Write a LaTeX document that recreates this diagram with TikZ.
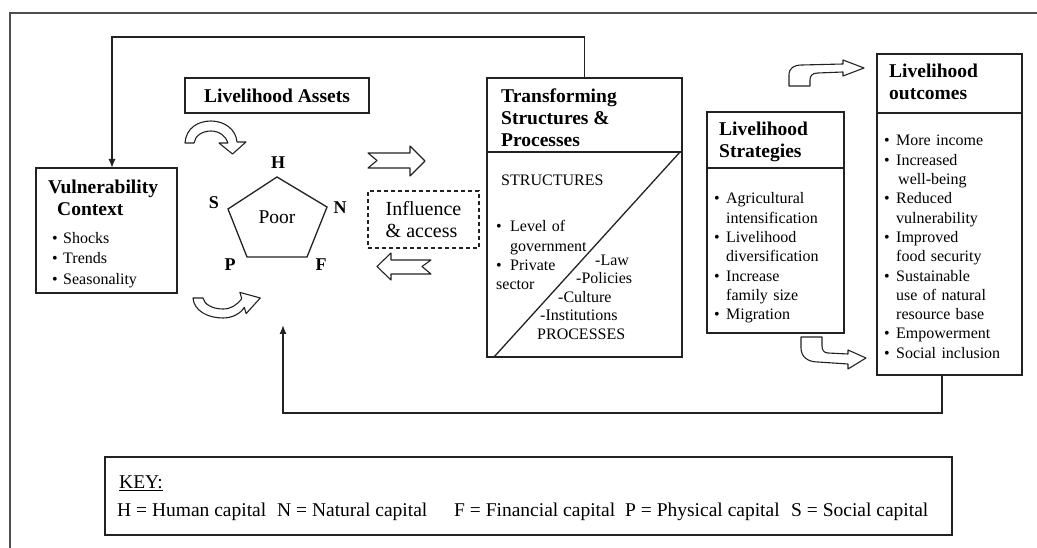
\documentclass[tikz,border=0pt]{standalone}
\usepackage{fontspec}
\setmainfont{Liberation Serif}
\usetikzlibrary{arrows.meta}
\definecolor{ink}{HTML}{222222}
\newlength\bulw
\newcommand{\headfont}{\fontsize{19.5}{22}\selectfont\bfseries}
\newcommand{\listfont}{\fontsize{16}{19.3}\selectfont}
\newcommand{\keyfont}{\fontsize{19.5}{22}\selectfont}
\newcommand{\bitem}{\par\noindent\hangindent=\bulw\hangafter=1\makebox[\bulw][l]{\strut\textbullet}}

\begin{document}
\begin{tikzpicture}[x=1pt, y=-1pt, every text node part/.style={align=left}]

\tikzstyle{panel} = [rectangle, draw=ink, line width=1.3pt, inner sep=0, outer sep=0, anchor=north west]
\tikzstyle{heading} = [inner sep=0, anchor=north west, font=\headfont]
\tikzstyle{listing} = [inner sep=0, anchor=north west, font=\listfont, text width=140pt]
\tikzstyle{plain} = [inner sep=0, anchor=base west, font=\listfont]
\tikzstyle{letter} = [inner sep=0, font=\fontsize{18}{20}\selectfont\bfseries]
\tikzstyle{wire} = [draw=ink, line width=1.3pt]
\tikzstyle{arrow} = [draw=ink, line width=1.3pt, -{Latex[length=9pt,width=7pt]}]
\tikzstyle{hollow} = [draw=ink, line width=1.1pt, line join=round]

\useasboundingbox (0,0) rectangle (1037,548);
\draw[wire, draw=ink!80] (10,548) -- (10,13) -- (1037,13);

% vulnerability context
\node[panel, minimum width=141pt, minimum height=125pt] (vuln) at (36,168) {};
\node[heading] (vulnhead) at (48,178) {\strut Vulnerability\\\hspace*{9pt}Context};
\node[listing, text width=120pt] (vulnlist) at (52,223) {\fontsize{16}{20}\selectfont\setlength\bulw{11pt}\bitem Shocks\bitem Trends\bitem Seasonality};

% livelihood assets
\node[panel, anchor=center, minimum width=184pt, minimum height=35pt, font=\headfont] (assets) at (277,95.5) {Livelihood Assets};

\coordinate (ph) at (277,177);
\coordinate (pn) at (327,207);
\coordinate (pf) at (307,257);
\coordinate (pp) at (247,257);
\coordinate (ps) at (228,209);
\draw[wire] (ph) -- (pn) -- (pf) -- (pp) -- (ps) -- cycle;
\node[font=\fontsize{19.5}{22}\selectfont, inner sep=0] (poor) at (277,217) {Poor};
\node[letter] (capH) at (278,163) {H};
\node[letter] (capN) at (340,208) {N};
\node[letter] (capF) at (321,265) {F};
\node[letter] (capP) at (230,265) {P};
\node[letter] (capS) at (214,203) {S};

% curved arrows round the pentagon
\draw[hollow] (185,143) .. controls (186,128) and (198,121) .. (211,121) .. controls (224,121) and (236,129) .. (237,142) -- (246,142) -- (232.5,154) -- (219,143) -- (228,143) .. controls (226,136) and (219,131) .. (211,131) .. controls (202,131) and (195,136) .. (194,143) -- cycle;
\draw[hollow] (193,298) .. controls (194,311) and (208,318) .. (223,318) .. controls (233,318) and (241,313) .. (244.3,307.3) -- (246.1,313.6) -- (260.3,298) -- (239.9,292.4) -- (241.7,298.7) .. controls (237,305) and (231,309) .. (223,309) .. controls (212,309) and (204,304) .. (203,298) -- cycle;

% influence and access
\node[panel, anchor=center, dash pattern=on 4pt off 3pt, minimum width=111pt, minimum height=57pt, font=\fontsize{20}{22}\selectfont] (influence) at (423.5,219.5) {Influence\\\& access};
\draw[hollow] (368,153) -- (410,153) -- (410,146) -- (425,161) -- (410,176) -- (410,168) -- (368,168) -- (377,160.5) -- cycle;
\draw[hollow] (377,266.5) -- (391,253) -- (391,260) -- (431,260) -- (422,266.5) -- (431,274) -- (391,274) -- (391,280) -- cycle;

% transforming structures and processes
\node[panel, minimum width=195pt, minimum height=74pt] (transhead) at (487,78) {};
\node[panel, minimum width=195pt, minimum height=205pt] (transbody) at (transhead.south west) {};
\node[heading] (transtitle) at (501,87) {\strut Transforming\\Structures \&\\Processes};
\node[plain] (structures) at (501,186) {STRUCTURES};
\node[listing] (translist) at (496,212.5) {\setlength\bulw{14pt}\bitem Level of\newline government\bitem Private\newline sector};
\node[plain] (law) at (595,266) {-Law};
\node[plain] (policies) at (576,284) {-Policies};
\node[plain] (culture) at (558,303) {-Culture};
\node[plain] (institutions) at (540,321) {-Institutions};
\node[plain] (processes) at (537,339) {PROCESSES};
\draw[wire] ([xshift=7pt]transbody.south west) -- ([xshift=-2pt]transbody.north east);

% livelihood strategies
\node[panel, minimum width=137pt, minimum height=56pt] (strathead) at (707,112) {};
\node[panel, minimum width=137pt, minimum height=165pt] (stratbody) at (strathead.south west) {};
\node[heading] (strattitle) at (719,120) {\strut Livelihood\\Strategies};
\node[listing] (stratlist) at (714,184.5) {\setlength\bulw{12pt}\bitem Agricultural\newline intensification\bitem Livelihood\newline diversification\bitem Increase\newline family size\bitem Migration};

% livelihood outcomes
\node[panel, minimum width=145pt, minimum height=59pt] (outhead) at (877,54) {};
\node[panel, minimum width=145pt, minimum height=262pt] (outbody) at (outhead.south west) {};
\node[heading] (outtitle) at (889,62) {\strut Livelihood\\outcomes};
\node[listing] (outlist) at (884,126.5) {\setlength\bulw{12pt}\bitem More income\bitem Increased\newline\hspace*{2pt}well-being\bitem Reduced\newline vulnerability\bitem Improved\newline food security\bitem Sustainable\newline use of natural\newline resource base\bitem Empowerment\bitem Social inclusion};

\draw[hollow] (789,86) -- (789,75) .. controls (789,68) and (794,65) .. (802,65) -- (843,64) -- (843,60) -- (864,68) -- (843,76) -- (843,72) -- (818,73) .. controls (812,73) and (810,76) .. (810,80) -- (810,86) -- cycle;
\draw[hollow] (801,337) -- (801,348) .. controls (801,357) and (808,362) .. (818,362) -- (848,364) -- (848,369) -- (866,358) -- (848,350) -- (848,354) -- (828,353) .. controls (824,353) and (822,350) .. (822,346) -- (822,337) -- cycle;

% feedback loops
\coordinate (poorin) at (283,325);
\draw[arrow] (transhead.north) -- ++(0,-41) -| ([xshift=5.5pt]vuln.north);
\draw[arrow] ([xshift=-7.5pt]outbody.south) -- ++(0,38) -| (poorin);

% key
\node[panel, minimum width=847pt, minimum height=78pt] (key) at (105,457) {};
\node[plain, font=\keyfont] (keyhead) at (119,488.5) {\underline{KEY:}};
\node[plain, font=\keyfont] (keyH) at (117,516) {H = Human capital};
\node[plain, font=\keyfont] (keyN) at (277,516) {N = Natural capital};
\node[plain, font=\keyfont] (keyF) at (454,516) {F = Financial capital};
\node[plain, font=\keyfont] (keyP) at (625,516) {P = Physical capital};
\node[plain, font=\keyfont] (keyS) at (791,516) {S = Social capital};
\end{tikzpicture}
\end{document}
